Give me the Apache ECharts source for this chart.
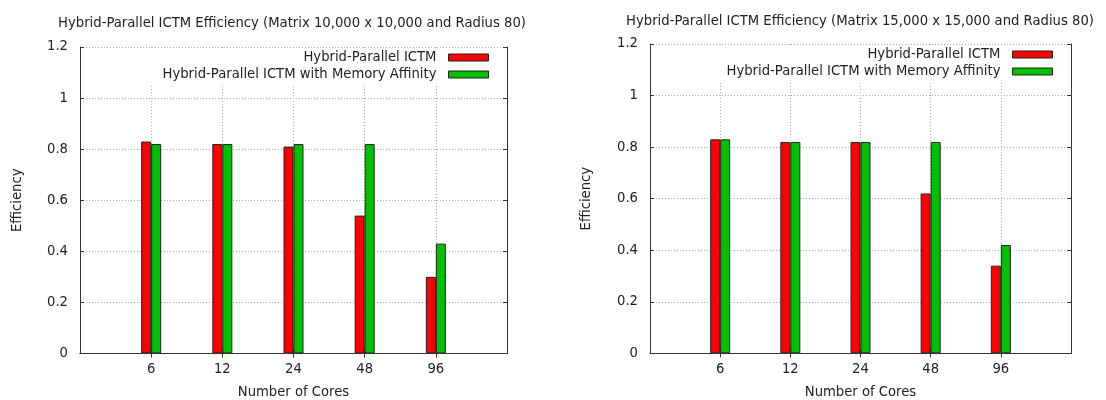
<!DOCTYPE html>
<html><head><meta charset="utf-8">
<script src="https://cdn.jsdelivr.net/npm/echarts@6/dist/echarts.min.js"></script>
<style>html,body{margin:0;padding:0;background:#fff}#c{width:1106px;height:400px}</style>
</head><body><div id="c"></div>
<script>
var categories = ['6', '12', '24', '48', '96'];
var seriesNames = ['Hybrid-Parallel ICTM', 'Hybrid-Parallel ICTM with Memory Affinity'];
var leftRed = [0.83, 0.82, 0.81, 0.54, 0.30];
var leftGreen = [0.82, 0.82, 0.82, 0.82, 0.43];
var rightRed = [0.83, 0.82, 0.82, 0.62, 0.34];
var rightGreen = [0.83, 0.82, 0.82, 0.82, 0.42];
var yTicks = [0, 0.2, 0.4, 0.6, 0.8, 1, 1.2];
var titles = ['Hybrid-Parallel ICTM Efficiency (Matrix 10,000 x 10,000 and Radius 80)',
              'Hybrid-Parallel ICTM Efficiency (Matrix 15,000 x 15,000 and Radius 80)'];
var xName = 'Number of Cores';
var yName = 'Efficiency';

var FONT = 'DejaVu Sans';
var FS = 13.2;
var TXT = '#222';
var cats = [''].concat(categories).concat(['']);
function pad(a){ return [null].concat(a).concat([null]); }
function notBlank(idx, val){ return val !== ''; }

var grids = [
  {left: 80, top: 47, width: 427, height: 306.5, outerBoundsMode: 'none', containLabel: false},
  {left: 650, top: 44, width: 421, height: 309.3, outerBoundsMode: 'none', containLabel: false}
];
var xAxes = [], yAxes = [];
grids.forEach(function(g, i){
  xAxes.push({
    type: 'category', gridIndex: i, data: cats, boundaryGap: false, position: 'bottom',
    axisLine: {lineStyle: {color: '#333', width: 1}},
    axisTick: {inside: true, length: 4, interval: notBlank, lineStyle: {color: '#333'}},
    axisLabel: {color: TXT, fontFamily: FONT, fontSize: FS, margin: 10, interval: notBlank},
    splitLine: {show: true, interval: notBlank, lineStyle: {color: '#aaa', type: [1, 2], width: 1}},
    name: xName, nameLocation: 'middle', nameGap: 33,
    nameTextStyle: {color: TXT, fontFamily: FONT, fontSize: FS}
  });
  xAxes.push({
    type: 'category', gridIndex: i, data: cats, boundaryGap: false, position: 'top', z: 6,
    axisLine: {lineStyle: {color: '#333', width: 1}},
    axisTick: {inside: true, length: 4, interval: notBlank, lineStyle: {color: '#333'}},
    axisLabel: {show: false}, splitLine: {show: false}
  });
  yAxes.push({
    type: 'value', gridIndex: i, min: yTicks[0], max: yTicks[yTicks.length - 1], interval: 0.2,
    axisLine: {show: true, lineStyle: {color: '#333', width: 1}},
    axisTick: {show: true, inside: true, length: 4, lineStyle: {color: '#333'}},
    axisLabel: {color: TXT, fontFamily: FONT, fontSize: FS, margin: 12,
      formatter: function(v){ return String(Math.round(v * 10) / 10); }},
    splitLine: {show: true, lineStyle: {color: '#aaa', type: [1, 2], width: 1}},
    name: yName, nameLocation: 'middle', nameGap: i === 0 ? 56 : 57, nameRotate: 90,
    nameTextStyle: {color: TXT, fontFamily: FONT, fontSize: FS}
  });
  yAxes.push({
    type: 'value', gridIndex: i, position: 'right', min: yTicks[0], max: yTicks[yTicks.length - 1], interval: 0.2,
    axisLine: {show: true, lineStyle: {color: '#333', width: 1}},
    axisTick: {show: true, inside: true, length: 4, lineStyle: {color: '#333'}},
    axisLabel: {show: false}, splitLine: {show: false}
  });
});

var colors = ['#ff0000', '#00c000'];
var datasets = [[leftRed, leftGreen], [rightRed, rightGreen]];
var series = [];
datasets.forEach(function(ds, i){
  ds.forEach(function(vals, j){
    series.push({
      type: 'bar', name: seriesNames[j], xAxisIndex: i * 2, yAxisIndex: i * 2,
      data: pad(vals), barWidth: 10, barGap: '0%',
      itemStyle: {color: colors[j], borderColor: '#222', borderWidth: 1},
      emphasis: {disabled: true}, animation: false
    });
  });
});

function legend(right, top){
  return {
    orient: 'vertical', align: 'right', right: right, top: top,
    padding: [2, 17, 2, 70], backgroundColor: '#fff',
    itemWidth: 40, itemHeight: 7, itemGap: 2, icon: 'rect',
    itemStyle: {borderColor: '#222', borderWidth: 1},
    textStyle: {color: TXT, fontFamily: FONT, fontSize: FS, padding: [0, 7, 0, 0], lineHeight: 15},
    data: seriesNames, selectedMode: false
  };
}

var chart = echarts.init(document.getElementById('c'), null, {renderer: 'canvas'});
chart.setOption({
  animation: false,
  color: colors,
  title: [
    {text: titles[0], left: 287, top: 12, textAlign: 'center',
     textStyle: {color: TXT, fontFamily: FONT, fontSize: FS, fontWeight: 'normal'}},
    {text: titles[1], left: 855, top: 10, textAlign: 'center',
     textStyle: {color: TXT, fontFamily: FONT, fontSize: FS, fontWeight: 'normal'}}
  ],
  legend: [legend(600, 48), legend(36, 45)],
  grid: grids,
  xAxis: xAxes,
  yAxis: yAxes,
  series: series
});
</script></body></html>
